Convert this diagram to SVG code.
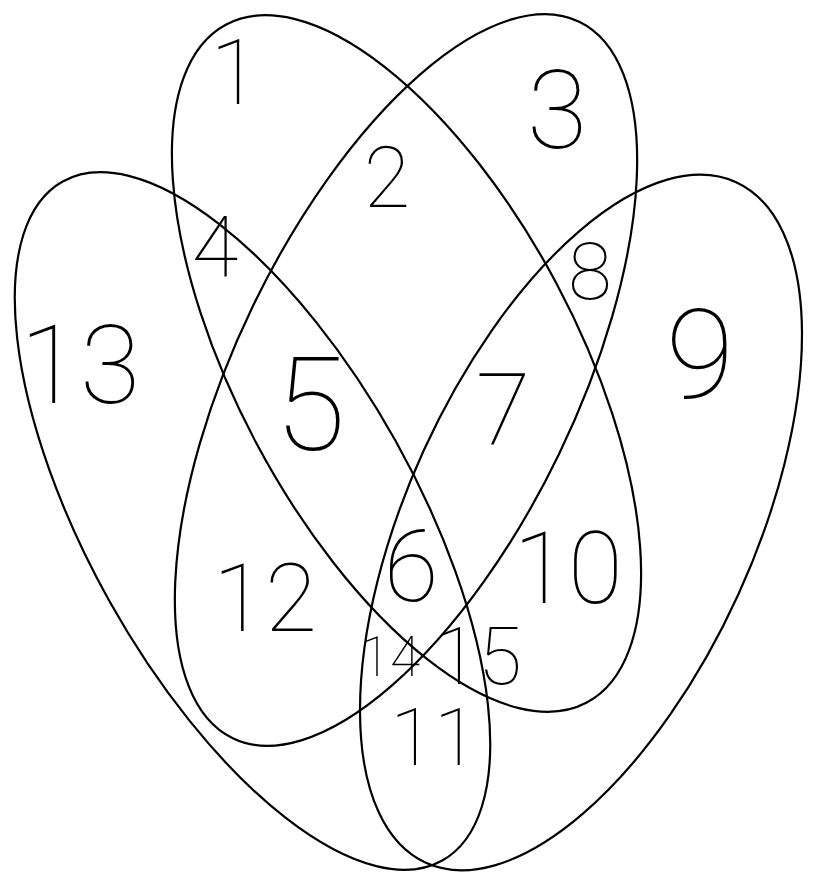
<svg xmlns="http://www.w3.org/2000/svg" width="834" height="893" viewBox="0 0 834 893">
<style>
.e{fill:none;stroke:#000;stroke-width:2.2}
.n{font-family:Roboto,Lato,Inter,"Liberation Sans",sans-serif;font-weight:100;fill:#000;text-anchor:middle;dominant-baseline:central}
</style>
<rect width="834" height="893" fill="#fff"/>
<g id="connectors"></g>
<g id="set-top-left"><ellipse class="e" cx="406.5" cy="363.5" rx="384" ry="170" transform="rotate(62 406.5 363.5)"/></g>
<g id="set-top-right"><ellipse class="e" cx="406" cy="380" rx="398" ry="170" transform="rotate(-64.2 406 380)"/></g>
<g id="set-left"><ellipse class="e" cx="252.5" cy="521" rx="389" ry="164" transform="rotate(60.8 252.5 521)"/></g>
<g id="set-right"><ellipse class="e" cx="581" cy="522.5" rx="374" ry="173" transform="rotate(-65.5 581 522.5)"/></g>
<g id="labels">
<text class="n" x="235" y="73" font-size="90">1</text>
<text class="n" x="387" y="178" font-size="85">2</text>
<text class="n" x="557" y="110" font-size="110">3</text>
<text class="n" x="215" y="248" font-size="85">4</text>
<text class="n" x="80" y="365" font-size="110">13</text>
<text class="n" x="310" y="405" font-size="130">5</text>
<text class="n" x="503" y="410" font-size="100">7</text>
<text class="n" x="590" y="272" font-size="80">8</text>
<text class="n" x="700" y="355" font-size="125">9</text>
<text class="n" x="568" y="568" font-size="100">10</text>
<text class="n" x="265" y="598" font-size="95">12</text>
<text class="n" x="411" y="566" font-size="100">6</text>
<text class="n" x="390" y="657" font-size="55">14</text>
<text class="n" x="478" y="657" font-size="80">15</text>
<text class="n" x="434" y="738" font-size="80">11</text>
</g>
</svg>
